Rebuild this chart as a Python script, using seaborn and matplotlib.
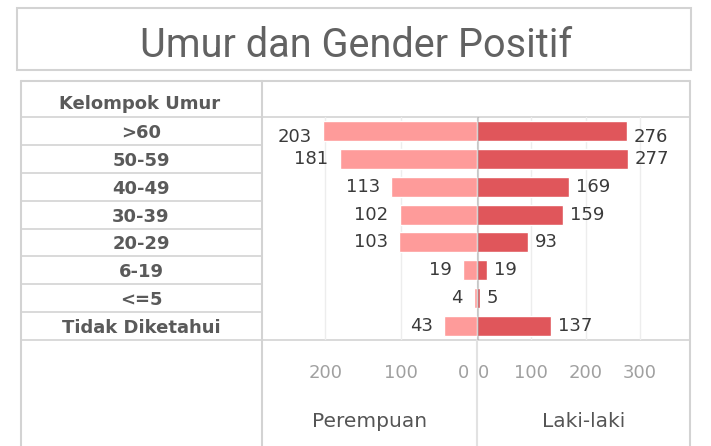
# plot.py
# Umur dan Gender Positif - butterfly bar chart (Tableau style)

import matplotlib
matplotlib.use("Agg")
import matplotlib.pyplot as plt
import matplotlib.transforms as mtransforms
import seaborn as sns
import numpy as np
import pandas as pd

# ── Data ──────────────────────────────────────────────────────────────────────
groups    = [">60", "50-59", "40-49", "30-39", "20-29", "6-19", "<=5", "Tidak Diketahui"]
perempuan = [203, 181, 113, 102, 103, 19, 4, 43]
laki_laki = [276, 277, 169, 159, 93, 19, 5, 137]
ticks_left  = [0, 100, 200]
ticks_right = [0, 100, 200, 300]

df = pd.DataFrame({"Kelompok Umur": groups,
                   "Perempuan": perempuan,
                   "Laki-laki": laki_laki})

# ── Style ─────────────────────────────────────────────────────────────────────
sns.set_style("white")
plt.rcParams["font.family"] = ["DejaVu Sans"]

W, H = 711, 446
C_LEFT  = "#FE9B9A"
C_RIGHT = "#E0565B"
C_LINE  = "#D3D3D3"
C_GRID  = "#EDEDED"

def fx(x):
    return x / W

def fy(y):
    return 1 - y / H

fig = plt.figure(figsize=(W / 100, H / 100), dpi=100)

# background layer in pixel coords for frames / title
bg = fig.add_axes([0, 0, 1, 1], zorder=0)
bg.set_xlim(0, W)
bg.set_ylim(H, 0)
bg.axis("off")

# title box
bg.add_patch(plt.Rectangle((17, 8), 674, 62, fill=False, ec=C_LINE, lw=1.5))
bg.text(356, 57, "Umur dan Gender Positif", ha="center", va="baseline",
        fontsize=28.5, family=["Roboto", "DejaVu Sans"],
        color="#626262")

# table frame
bg.plot([21, 21], [81, H], color=C_LINE, lw=1.5)
bg.plot([690, 690], [81, H], color=C_LINE, lw=1.5)
bg.plot([21, 690], [81, 81], color=C_LINE, lw=1.5)
bg.plot([21, 690], [117, 117], color=C_LINE, lw=1.2)
bg.plot([21, 690], [340, 340], color=C_LINE, lw=1.2)
bg.plot([262, 262], [81, H], color=C_LINE, lw=1.5)
bg.plot([477, 477], [340, H], color="#E2E2E2", lw=1.5)
bg.text(140, 109, "Kelompok Umur", ha="center", va="baseline",
        fontsize=13, fontweight="bold", color="#5a5a5a")

# ── Bar panes ─────────────────────────────────────────────────────────────────
top, bottom = 117, 340
axL = fig.add_axes([fx(262), fy(bottom), fx(477 - 262), (bottom - top) / H], zorder=2)
axR = fig.add_axes([fx(477), fy(bottom), fx(690 - 477), (bottom - top) / H], zorder=2)
for ax in (axL, axR):
    ax.patch.set_alpha(0)

sns.barplot(data=df, x="Perempuan", y="Kelompok Umur", orient="h",
            color=C_LEFT, saturation=1, width=0.72, ax=axL)
sns.barplot(data=df, x="Laki-laki", y="Kelompok Umur", orient="h",
            color=C_RIGHT, saturation=1, width=0.72, ax=axR)

axL.set_xlim(283.5, 0)
axR.set_xlim(0, 392)

for ax, ticks, pad in ((axL, ticks_left, 8), (axR, ticks_right, 5)):
    sns.despine(ax=ax, left=True, bottom=True)
    ax.set_xticks(ticks)
    ax.set_xticklabels([str(t) for t in ticks])
    ax.grid(axis="x", color=C_GRID, lw=1)
    ax.set_axisbelow(True)
    ax.tick_params(axis="x", length=0, pad=17, labelsize=13, labelcolor="#a0a0a0")
    anns = ax.bar_label(ax.containers[0], padding=pad, fontsize=13, color="#3a3a3a")
    # tableau nudges the top row labels a little below the bar centre
    anns[0].xyann = (anns[0].xyann[0], anns[0].xyann[1] - 4.5)
    ax.xaxis.label.set_fontsize(14.5)
    ax.xaxis.label.set_color("#555555")
    ax.xaxis.set_label_coords(0.5, -(427 - bottom) / (bottom - top))
    ax.xaxis.label.set_va("baseline")

# the two zero labels sit either side of the divider
lab0 = axL.get_xticklabels()[0]
lab0.set_ha("right")
lab0.set_transform(lab0.get_transform() +
                   mtransforms.ScaledTranslation(-8 / 100, 0, fig.dpi_scale_trans))
lab0r = axR.get_xticklabels()[0]
lab0r.set_ha("left")
lab0r.set_transform(lab0r.get_transform() +
                    mtransforms.ScaledTranslation(1 / 100, 0, fig.dpi_scale_trans))

# category labels live in the left column of the table
axL.set_ylabel("")
axR.set_ylabel("")
axR.set_yticks([])
axL.tick_params(axis="y", length=0, pad=(262 - 141) * 0.72, labelsize=13, labelcolor="#5a5a5a")
for lab in axL.get_yticklabels():
    lab.set_ha("center")
    lab.set_fontweight("bold")

# row separators in the label column
trans = mtransforms.blended_transform_factory(fig.transFigure, axL.transData)
axL.hlines(np.arange(0.5, len(groups) - 1), fx(21), fx(262), transform=trans,
           color=C_LINE, lw=1.2, clip_on=False)

# zero divider over the bars
axR.axvline(0, color="#808080", alpha=0.35, lw=3, zorder=5)

for ax in (axL, axR):
    ax.set_ylim(len(groups) - 0.5, -0.5)

fig.savefig("out.png", dpi=100)
plt.close()
